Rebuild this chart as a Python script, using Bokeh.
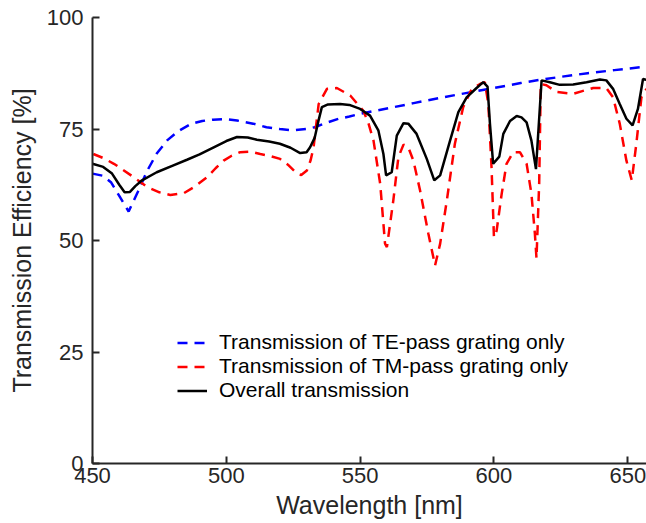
from bokeh.plotting import figure
from bokeh.models import Legend, LegendItem, Range1d, FixedTicker
from bokeh.embed import file_html
from bokeh.resources import INLINE

# ---- data ----
te_wl = [450, 454, 457, 460, 463.5, 467, 470.5, 474, 478, 482, 487, 491, 495, 500,
         504, 510, 515, 520, 525, 530, 533, 537, 542, 546, 550, 560, 570, 580, 590,
         600, 610, 617, 625, 635, 645, 657]
te_val = [65, 64.5, 63, 60, 56.5, 61, 65.7, 69.5, 72.5, 74.5, 76.2, 76.8, 77.1, 77.2,
          76.9, 76.2, 75.4, 75.0, 74.7, 75.0, 75.4, 76.3, 77.3, 77.8, 78.4, 79.6, 80.8,
          82.0, 83.1, 84.2, 85.3, 86.0, 86.7, 87.5, 88.2, 89.0]

tm_wl = [450.3, 454, 458, 461, 465.4, 470.4, 475, 479.1, 484.1, 488, 492.8, 496, 499,
         502, 505.2, 509, 512.7, 516, 520.1, 523, 526.4, 528, 530.1, 531.5, 532.6,
         534.5, 537.6, 541.3, 546.3, 551.2, 553, 555, 557.5, 559.3, 560, 562.4, 564.3,
         566.2, 568, 569.9, 572.4, 575.5, 578, 579.9, 582.4, 585.4, 588.5, 591.7, 594.8,
         596.6, 597.9, 599.1, 600, 601, 602.9, 604.7, 607.2, 609.7, 612.2, 614, 615.3,
         615.9, 616.9, 617.5, 619.6, 623.4, 629.6, 633, 637.1, 642, 644.5, 647, 649.5,
         651.5, 653.2, 655.1, 657]
tm_val = [69.4, 68.5, 67.2, 66.0, 64.2, 62.0, 60.8, 60.2, 60.6, 62.0, 64.2, 66.2, 67.9,
          69.0, 69.8, 69.9, 69.4, 69.0, 68.3, 67.0, 65.0, 64.7, 65.7, 68.0, 70.9,
          80.6, 84.0, 84.2, 82.5, 79.1, 76.5, 72.4, 62.7, 49.3, 48.5, 59.0, 68.7,
          71.5, 70.9, 67.9, 61.2, 51.5, 44.4, 49.3, 59.0, 71.7, 79.9, 84.0, 85.1,
          85.5, 80.6, 66.4, 50.7, 52.2, 60.5, 67.2, 69.8, 69.8, 67.2, 60.5, 51.5,
          46.0, 62.8, 85.1, 84.8, 83.3, 82.9, 83.5, 84.2, 84.2, 82.1, 76.2, 67.9,
          63.5, 71.7, 82.1, 84.0]

all_wl = [450, 454, 457.3, 460, 462, 464, 466, 468.5, 474, 480, 485.3, 490, 495.3, 500,
          504, 508, 511.4, 516, 520, 524, 527.6, 530, 531.3, 533, 534.5, 535.7, 538,
          542.5, 546, 550, 553.7, 556.8, 558.7, 559.7, 561.8, 563.7, 566.2, 568, 571.1,
          574.9, 577.7, 579.9, 583.6, 586.7, 589.8, 593.5, 596, 597.6, 598.5, 599.7,
          602, 603.5, 606, 608.5, 610.3, 612.2, 614, 615.7, 617.8, 620.9, 624.6, 629.6,
          634.6, 639.6, 642, 644.5, 647, 649.5, 651.8, 653.8, 655.7, 657]
all_val = [67.2, 66.5, 65.0, 62.5, 60.8, 60.9, 62.2, 63.5, 65.3, 66.8, 68.1, 69.3, 70.9,
           72.3, 73.2, 73.1, 72.6, 72.2, 71.7, 70.8, 69.6, 69.8, 70.9, 73.0, 77.0, 79.9,
           80.5, 80.6, 80.4, 79.5, 78.0, 74.7, 69.4, 64.6, 65.3, 73.5, 76.3, 76.2, 73.9,
           68.3, 63.5, 64.6, 72.4, 78.8, 82.1, 84.2, 85.5, 84.5, 76.2, 67.2,
           68.8, 73.9, 76.8, 77.9, 77.6, 76.5, 72.4, 66.0, 85.9, 85.5, 84.9, 85.0,
           85.5, 86.1, 85.9, 84.0, 80.6, 77.3, 75.8, 79.5, 86.2, 86.0]

x_ticks = [450, 500, 550, 600, 650]
y_ticks = [0, 25, 50, 75, 100]
labels = ["Transmission of TE-pass grating only",
          "Transmission of TM-pass grating only",
          "Overall transmission"]

FONT = "Liberation Sans"
AX = "#262626"

p = figure(width=646, height=523, output_backend="svg", toolbar_location=None,
           x_range=Range1d(450, 657), y_range=Range1d(0, 100),
           min_border_left=92, min_border_right=0, min_border_top=17, min_border_bottom=60)
p.outline_line_color = None
p.xgrid.visible = False
p.ygrid.visible = False
p.background_fill_color = "white"
p.border_fill_color = "white"

r_te = p.line(te_wl, te_val, line_color="#0000FF", line_width=2.5, line_dash="10 7")
r_tm = p.line(tm_wl, tm_val, line_color="#FF0000", line_width=2.5, line_dash="10 7")
r_all = p.line(all_wl, all_val, line_color="black", line_width=2.5)

p.xaxis.ticker = FixedTicker(ticks=x_ticks)
p.yaxis.ticker = FixedTicker(ticks=y_ticks)
p.xaxis.axis_label = "Wavelength [nm]"
p.yaxis.axis_label = "Transmission Efficiency [%]"
for ax in (p.xaxis[0], p.yaxis[0]):
    ax.axis_line_color = AX
    ax.axis_line_width = 2
    ax.major_tick_line_color = AX
    ax.major_tick_line_width = 2
    ax.major_tick_in = 7
    ax.major_tick_out = 0
    ax.minor_tick_line_color = None
    ax.major_label_text_font = FONT
    ax.major_label_text_font_size = "22px"
    ax.major_label_text_color = AX
    ax.axis_label_text_font = FONT
    ax.axis_label_text_font_style = "normal"
    ax.axis_label_text_color = AX
    ax.axis_label_text_font_size = "25px"
p.xaxis.major_label_standoff = 4
p.xaxis.axis_label_standoff = 5
p.yaxis.major_label_standoff = 9
p.yaxis.axis_label_standoff = 8

legend = Legend(items=[LegendItem(label=labels[0], renderers=[r_te]),
                       LegendItem(label=labels[1], renderers=[r_tm]),
                       LegendItem(label=labels[2], renderers=[r_all])],
                location=(85, 61), orientation="vertical")
legend.label_text_font = FONT
legend.label_text_font_size = "21px"
legend.label_text_color = "black"
legend.glyph_width = 30
legend.glyph_height = 21
legend.label_height = 21
legend.label_standoff = 12
legend.spacing = -4
legend.padding = 0
legend.margin = 0
legend.border_line_color = None
legend.background_fill_alpha = 0
p.add_layout(legend, "center")

open("out.html", "w").write(file_html(p, INLINE))
